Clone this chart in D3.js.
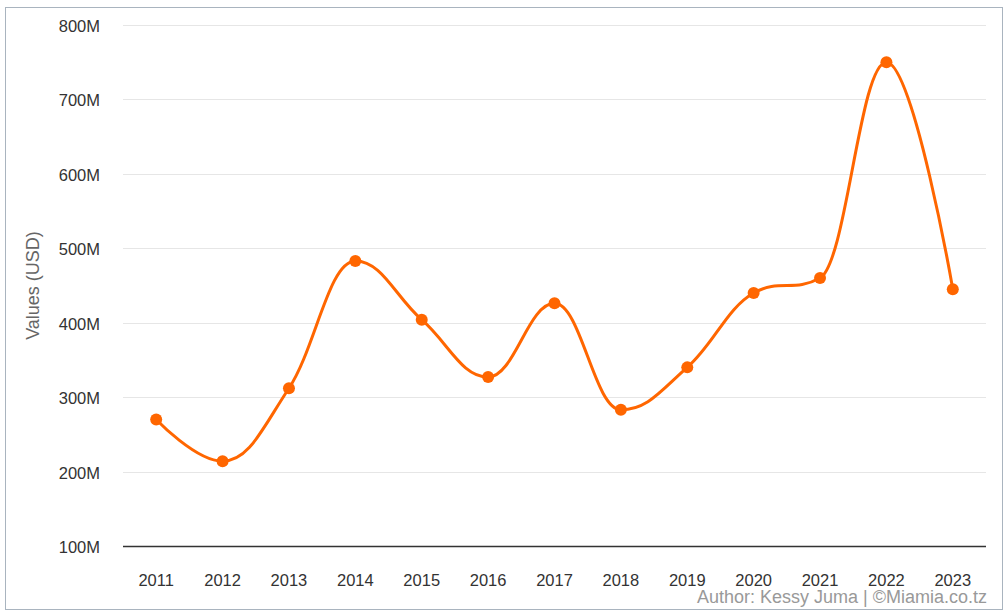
<!DOCTYPE html>
<html>
<head>
<meta charset="utf-8">
<script src="https://cdn.jsdelivr.net/npm/d3@7"></script>
<style>
  body { margin: 0; background: #fff; }
  text { font-family: "Liberation Sans", Arial, sans-serif; }
</style>
</head>
<body>
<svg id="chart"></svg>
<script>
const years = ['2011', '2012', '2013', '2014', '2015', '2016', '2017', '2018', '2019', '2020', '2021', '2022', '2023'];
const values = [270, 214, 312, 483, 404, 327, 426, 283, 340, 440, 460, 750, 445]; // millions USD
const yTicks = [100, 200, 300, 400, 500, 600, 700, 800];

const width = 1008, height = 612;
const margin = { top: 25, right: 22, bottom: 66, left: 123 };

const svg = d3.select('#chart').attr('width', width).attr('height', height);

// outer frame
svg.append('rect')
    .attr('x', 5.5).attr('y', 7.5)
    .attr('width', 997).attr('height', 602)
    .attr('fill', '#fff')
    .attr('stroke', '#a9b4bf');

const x = d3.scaleBand()
    .domain(years)
    .range([margin.left, width - margin.right]);

const y = d3.scaleLinear()
    .domain([100, 800])
    .range([height - margin.bottom, margin.top]);

// gridlines
svg.append('g')
    .selectAll('line')
    .data(yTicks.slice(1))
    .enter()
    .append('line')
    .attr('x1', margin.left)
    .attr('x2', width - margin.right)
    .attr('y1', d => Math.round(y(d)) + 0.5)
    .attr('y2', d => Math.round(y(d)) + 0.5)
    .attr('stroke', '#e6e6e6');

// y labels
svg.append('g')
    .selectAll('text')
    .data(yTicks)
    .enter()
    .append('text')
    .attr('x', 100)
    .attr('y', d => y(d) + 7)
    .attr('text-anchor', 'end')
    .style('font-size', '16.5px')
    .style('fill', '#333')
    .text(d => d + 'M');

// baseline
svg.append('line')
    .attr('x1', margin.left)
    .attr('x2', width - margin.right)
    .attr('y1', Math.round(y(100)) + 0.5)
    .attr('y2', Math.round(y(100)) + 0.5)
    .attr('stroke', '#333')
    .attr('stroke-width', 1.5);

// x labels
svg.append('g')
    .selectAll('text')
    .data(years)
    .enter()
    .append('text')
    .attr('x', d => x(d) + x.bandwidth() / 2)
    .attr('y', 586)
    .attr('text-anchor', 'middle')
    .style('font-size', '16.5px')
    .style('fill', '#333')
    .text(d => d);

// axis title
svg.append('text')
    .attr('transform', `translate(39, ${(y(100) + y(800)) / 2}) rotate(-90)`)
    .attr('text-anchor', 'middle')
    .style('font-size', '18px')
    .style('fill', '#666')
    .text('Values (USD)');

// spline like highcharts (smoothing 1.5)
const pts = values.map((v, i) => [x(years[i]) + x.bandwidth() / 2, y(v)]);
const smoothing = 1.5, denom = smoothing + 1;
const rightCont = [];
const path = d3.path();
pts.forEach((p, i) => {
  const [px, py] = p;
  let lcx = px, lcy = py;
  if (i > 0 && i < pts.length - 1) {
    const [lx, ly] = pts[i - 1];
    const [nx, ny] = pts[i + 1];
    lcx = (smoothing * px + lx) / denom;
    lcy = (smoothing * py + ly) / denom;
    let rcx = (smoothing * px + nx) / denom;
    let rcy = (smoothing * py + ny) / denom;
    let correction = 0;
    if (rcx !== lcx) {
      correction = ((rcy - lcy) * (rcx - px)) / (rcx - lcx) + py - rcy;
    }
    lcy += correction;
    rcy += correction;
    if (lcy > ly && lcy > py) {
      lcy = Math.max(ly, py);
      rcy = 2 * py - lcy;
    } else if (lcy < ly && lcy < py) {
      lcy = Math.min(ly, py);
      rcy = 2 * py - lcy;
    }
    if (rcy > ny && rcy > py) {
      rcy = Math.max(ny, py);
      lcy = 2 * py - rcy;
    } else if (rcy < ny && rcy < py) {
      rcy = Math.min(ny, py);
      lcy = 2 * py - rcy;
    }
    rightCont[i] = [rcx, rcy];
  }
  if (i === 0) {
    path.moveTo(px, py);
  } else {
    const rc = rightCont[i - 1] || pts[i - 1];
    path.bezierCurveTo(rc[0], rc[1], lcx, lcy, px, py);
  }
});

svg.append('path')
    .attr('d', path.toString())
    .attr('fill', 'none')
    .attr('stroke', '#ff6600')
    .attr('stroke-width', 3)
    .attr('stroke-linecap', 'round')
    .attr('stroke-linejoin', 'round');

svg.append('g')
    .selectAll('circle')
    .data(pts)
    .enter()
    .append('circle')
    .attr('cx', d => d[0])
    .attr('cy', d => d[1])
    .attr('r', 6)
    .attr('fill', '#ff6600');

// credits
svg.append('text')
    .attr('x', 987)
    .attr('y', 603)
    .attr('text-anchor', 'end')
    .style('font-size', '18px')
    .style('fill', '#999')
    .text('Author: Kessy Juma | ©Miamia.co.tz');
</script>
</body>
</html>
